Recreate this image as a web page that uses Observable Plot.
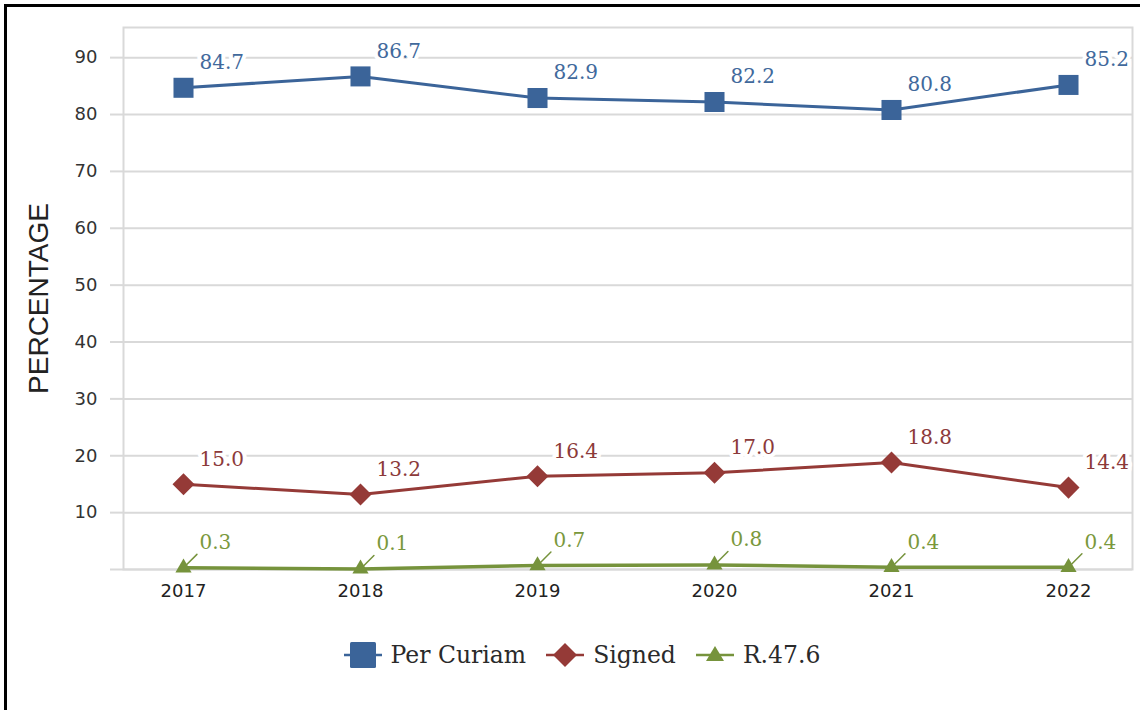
<!DOCTYPE html>
<html>
<head>
<meta charset="utf-8">
<script src="https://cdn.jsdelivr.net/npm/d3@7"></script>
<script src="https://cdn.jsdelivr.net/npm/@observablehq/plot@0.6"></script>
<style>
  html, body { margin: 0; padding: 0; background: #fff; }
  #wrap { position: relative; width: 1140px; height: 710px; overflow: hidden; }
  #frame { position: absolute; left: 4px; top: 4px; width: 1300px; height: 900px; border: 3px solid #000; box-sizing: border-box; pointer-events: none; }
  #chart { position: absolute; left: 0; top: 0; }
  #legend { position: absolute; left: 12px; top: 640px; width: 1140px; display: flex; justify-content: center; align-items: center; font-family: "DejaVu Serif", serif; font-size: 23.5px; color: #2a2a2a; }
  #legend .item { display: flex; align-items: center; margin: 0 10px; }
  #legend svg { margin-right: 9px; }
</style>
</head>
<body>
<div id="wrap">
  <div id="chart"></div>
  <div id="legend"></div>
  <div id="frame"></div>
</div>
<script>
const years = ["2017", "2018", "2019", "2020", "2021", "2022"];
const perCuriam = [84.7, 86.7, 82.9, 82.2, 80.8, 85.2];
const signed = [15.0, 13.2, 16.4, 17.0, 18.8, 14.4];
const r476 = [0.3, 0.1, 0.7, 0.8, 0.4, 0.4];
const seriesNames = ["Per Curiam", "Signed", "R.47.6"];
const yTicks = [0, 10, 20, 30, 40, 50, 60, 70, 80, 90];
const yTitle = "PERCENTAGE";

const colors = {"Per Curiam": "#3B6499", "Signed": "#953A37", "R.47.6": "#76933C"};
const labelColors = {"Per Curiam": "#41699c", "Signed": "#8c3a3a", "R.47.6": "#7a983c"};

const rows = [];
[perCuriam, signed, r476].forEach((vals, i) => {
  vals.forEach((v, j) => rows.push({series: seriesNames[i], year: years[j], value: v}));
});
const pc = rows.filter(d => d.series === "Per Curiam");
const sg = rows.filter(d => d.series === "Signed");
const rr = rows.filter(d => d.series === "R.47.6");

const grid = "#d9d9d9";
const labelFont = "DejaVu Serif";

const leader = {draw(context, l) { context.moveTo(0, 0); context.lineTo(0, -l); }};

const plot = Plot.plot({
  width: 1140,
  height: 610,
  marginLeft: 123,
  marginRight: 8,
  marginTop: 27,
  marginBottom: 41,
  style: {fontFamily: "DejaVu Sans", fontSize: "18px", color: "#333", background: "white"},
  x: {type: "point", domain: years, range: [181, 1070], padding: 0, label: null},
  y: {domain: [0, 95.3], label: null},
  marks: [
    Plot.gridY(yTicks, {stroke: grid, strokeOpacity: 1, strokeWidth: 2}),
    Plot.frame({stroke: grid, strokeWidth: 2}),
    Plot.axisY(yTicks, {tickSize: 13, tickPadding: 13, stroke: grid, strokeWidth: 2, tickFormat: d => d === 0 ? "" : d, fill: "#333", fontSize: 18}),
    Plot.axisX({tickSize: 0, tickPadding: 15, fill: "#222", fontSize: 18}),
    Plot.text([yTitle], {frameAnchor: "left", textAnchor: "middle", rotate: -90, dx: -84, text: d => d, fontFamily: "Liberation Sans", fontSize: 28, fill: "#222"}),
    Plot.line(pc, {x: "year", y: "value", stroke: colors["Per Curiam"], strokeWidth: 3}),
    Plot.line(sg, {x: "year", y: "value", stroke: colors["Signed"], strokeWidth: 3}),
    Plot.line(rr, {x: "year", y: "value", stroke: colors["R.47.6"], strokeWidth: 3.5}),
    Plot.text(rows, {x: "year", y: "value", text: d => d.value.toFixed(1), textAnchor: "start", dx: 16, dy: -25,
      fill: d => labelColors[d.series], stroke: "white", strokeWidth: 8, fontFamily: labelFont, fontSize: 20}),
    Plot.vector(rr, {x: "year", y: "value", rotate: 45, length: 19, anchor: "start", shape: leader, stroke: colors["R.47.6"], strokeWidth: 1.5}),
    Plot.dot(pc, {x: "year", y: "value", symbol: "square", r: 11.3, fill: colors["Per Curiam"], stroke: null}),
    Plot.dot(sg, {x: "year", y: "value", symbol: "square", rotate: 45, r: 8.8, fill: colors["Signed"], stroke: null}),
    Plot.dot(rr, {x: "year", y: "value", symbol: "triangle", r: 6, fill: colors["R.47.6"], stroke: null})
  ]
});
document.getElementById("chart").appendChild(plot);

// legend
const legend = document.getElementById("legend");
const symbolPaths = {
  "Per Curiam": '<rect x="6" y="2" width="26" height="26" rx="1.5" fill="#3B6499"/>',
  "Signed": '<path d="M19 3 L31 15 L19 27 L7 15 Z" fill="#953A37"/>',
  "R.47.6": '<path d="M19 6 L28 21 L10 21 Z" fill="#76933C"/>'
};
seriesNames.forEach(name => {
  const item = document.createElement("div");
  item.className = "item";
  item.innerHTML = `<svg width="38" height="30" viewBox="0 0 38 30"><line x1="0" x2="38" y1="15" y2="15" stroke="${colors[name]}" stroke-width="2.5"/>${symbolPaths[name]}</svg><span>${name}</span>`;
  legend.appendChild(item);
});
</script>
</body>
</html>
